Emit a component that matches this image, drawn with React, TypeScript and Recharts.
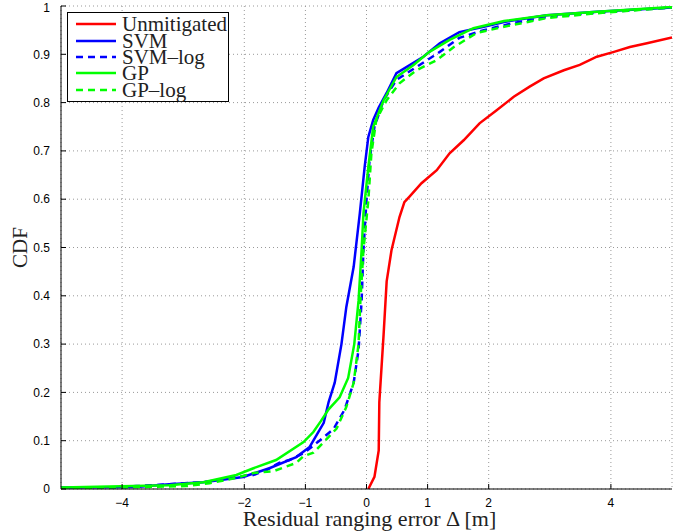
import { CartesianGrid, Legend, Line, LineChart, XAxis, YAxis } from "recharts";

const xTicks = [-4, -2, -1, 0, 1, 2, 4];
const yTicks = [0, 0.1, 0.2, 0.3, 0.4, 0.5, 0.6, 0.7, 0.8, 0.9, 1];

const unmitigatedX = [0.03, 0.13, 0.2, 0.21, 0.28, 0.33, 0.41, 0.54, 0.62, 0.7, 0.9, 1.15, 1.36, 1.59, 1.85, 2.13, 2.41, 2.67, 2.9, 3.23, 3.49, 3.77, 4.05, 4.31, 4.59, 5];
const unmitigatedY = [0, 0.025, 0.08, 0.18, 0.32, 0.43, 0.495, 0.563, 0.594, 0.605, 0.633, 0.66, 0.695, 0.722, 0.757, 0.784, 0.812, 0.833, 0.85, 0.867, 0.878, 0.895, 0.905, 0.915, 0.923, 0.935];

const svmX = [-5, -3.77, -3.23, -2.67, -2.02, -1.59, -1.15, -0.93, -0.7, -0.62, -0.52, -0.41, -0.33, -0.21, -0.11, -0.03, 0.03, 0.11, 0.2, 0.33, 0.49, 0.66, 0.93, 1.2, 1.52, 1.92, 2.25, 2.95, 3.77, 5];
const svmY = [0.003, 0.004, 0.01, 0.014, 0.025, 0.043, 0.066, 0.087, 0.137, 0.18, 0.22, 0.3, 0.377, 0.46, 0.57, 0.667, 0.729, 0.764, 0.79, 0.82, 0.861, 0.874, 0.895, 0.923, 0.946, 0.957, 0.967, 0.981, 0.988, 0.997];

const svmLogX = [-5, -3.98, -3.77, -3.23, -2.67, -2.13, -1.85, -1.64, -1.43, -1.26, -1.03, -0.77, -0.54, -0.36, -0.21, -0.13, -0.08, -0.05, 0, 0.05, 0.13, 0.28, 0.49, 0.87, 1.2, 1.52, 1.92, 2.41, 2.95, 3.77, 5];
const svmLogY = [0.002, 0.004, 0.006, 0.01, 0.014, 0.025, 0.029, 0.039, 0.054, 0.06, 0.074, 0.1, 0.124, 0.164, 0.22, 0.288, 0.39, 0.495, 0.598, 0.681, 0.75, 0.805, 0.847, 0.878, 0.905, 0.934, 0.95, 0.965, 0.977, 0.986, 0.997];

const gpX = [-5, -3.23, -2.67, -2.13, -1.85, -1.48, -1.03, -0.87, -0.75, -0.62, -0.44, -0.3, -0.2, -0.13, -0.08, -0.05, 0.03, 0.11, 0.28, 0.49, 0.77, 1.03, 1.36, 1.75, 2.25, 2.95, 3.77, 5];
const gpY = [0.003, 0.008, 0.014, 0.029, 0.043, 0.06, 0.097, 0.118, 0.14, 0.165, 0.19, 0.23, 0.3, 0.39, 0.495, 0.57, 0.667, 0.75, 0.805, 0.853, 0.878, 0.905, 0.93, 0.954, 0.969, 0.981, 0.988, 0.998];

const gpLogX = [-5, -3.77, -2.95, -2.57, -2.13, -1.85, -1.52, -1.15, -1.03, -0.87, -0.7, -0.49, -0.33, -0.21, -0.13, -0.1, -0.05, 0.03, 0.08, 0.16, 0.33, 0.54, 0.82, 1.15, 1.43, 1.8, 2.25, 2.95, 3.77, 5];
const gpLogY = [0.002, 0.004, 0.006, 0.012, 0.023, 0.033, 0.037, 0.054, 0.068, 0.075, 0.097, 0.125, 0.17, 0.22, 0.3, 0.39, 0.495, 0.598, 0.695, 0.764, 0.805, 0.84, 0.867, 0.888, 0.915, 0.944, 0.957, 0.975, 0.985, 0.997];

const toPoints = (xs: number[], ys: number[]) => xs.map((x, i) => ({ x, y: ys[i] }));

const series = [
  { name: "Unmitigated", color: "#ff0000", dash: undefined, data: toPoints(unmitigatedX, unmitigatedY) },
  { name: "SVM", color: "#0000ff", dash: undefined, data: toPoints(svmX, svmY) },
  { name: "SVM\u2013log", color: "#0000ff", dash: "7 5", data: toPoints(svmLogX, svmLogY) },
  { name: "GP", color: "#00ff00", dash: undefined, data: toPoints(gpX, gpY) },
  { name: "GP\u2013log", color: "#00ff00", dash: "7 5", data: toPoints(gpLogX, gpLogY) },
];

const serif = "'Liberation Serif', 'DejaVu Serif', serif";
const sans = "'Liberation Sans', Arial, sans-serif";

const LegendBox = () => (
  <div style={{ border: "1.5px solid #000", background: "#fff", padding: "3px 2px 3px 8px", width: 162, boxSizing: "border-box" }}>
    {series.map((s) => (
      <div key={s.name} style={{ display: "flex", alignItems: "center", height: 16.4 }}>
        <svg width={42} height={6} style={{ flex: "none" }}>
          <line x1={0} x2={40} y1={3} y2={3} stroke={s.color} strokeWidth={2.5} strokeDasharray={s.dash} />
        </svg>
        <span style={{ fontFamily: serif, fontSize: 21, marginLeft: 4, lineHeight: "16px", color: "#222", whiteSpace: "nowrap" }}>{s.name}</span>
      </div>
    ))}
  </div>
);

export default function App() {
  return (
    <div style={{ position: "absolute", left: 0, top: 0, background: "#fff" }}>
      <LineChart width={686} height={531} margin={{ top: 6, right: 14, left: 0, bottom: 0 }}>
        <CartesianGrid stroke="#999" strokeDasharray="1 3" />
        <XAxis
          dataKey="x"
          type="number"
          domain={[-5, 5]}
          ticks={xTicks}
          allowDataOverflow
          height={42}
          stroke="#000"
          tickSize={-5}
          tickMargin={14}
          tick={{ fill: "#000", fontSize: 12, fontFamily: sans }}
          tickFormatter={(v: number) => (v < 0 ? `\u2212${-v}` : `${v}`)}
          label={{
            content: (props: any) => {
              const vb = props.viewBox;
              return (
                <text x={vb.x + vb.width / 2 + 3} y={vb.y + 37} textAnchor="middle" fontFamily={serif} fontSize={22} fill="#222">
                  Residual ranging error Δ [m]
                </text>
              );
            },
          }}
        />
        <XAxis xAxisId="t" orientation="top" type="number" domain={[-5, 5]} ticks={xTicks} allowDataOverflow height={0} stroke="#000" tickSize={-5} tick={false} />
        <YAxis
          type="number"
          domain={[0, 1]}
          ticks={yTicks}
          allowDataOverflow
          width={61}
          stroke="#000"
          tickSize={-5}
          tickMargin={16}
          tick={{ fill: "#000", fontSize: 12, fontFamily: sans }}
          label={{
            content: (props: any) => {
              const vb = props.viewBox;
              const cx = vb.x + 22;
              const cy = vb.y + vb.height / 2;
              return (
                <text x={cx} y={cy} transform={`rotate(-90 ${cx} ${cy})`} textAnchor="middle" dominantBaseline="middle" fontFamily={serif} fontSize={21} fill="#222">
                  CDF
                </text>
              );
            },
          }}
        />
        <YAxis yAxisId="r" orientation="right" type="number" domain={[0, 1]} ticks={yTicks} allowDataOverflow width={0} stroke="#000" tickSize={-5} tick={false} />
        {series.map((s) => (
          <Line
            key={s.name}
            data={s.data}
            dataKey="y"
            name={s.name}
            type="linear"
            stroke={s.color}
            strokeWidth={2.5}
            strokeDasharray={s.dash}
            dot={false}
            isAnimationActive={false}
          />
        ))}
        <Legend
          content={() => <LegendBox />}
          layout="vertical"
          align="center"
          verticalAlign="middle"
          wrapperStyle={{ left: 67, top: 12, width: 162 }}
        />
      </LineChart>
    </div>
  );
}
